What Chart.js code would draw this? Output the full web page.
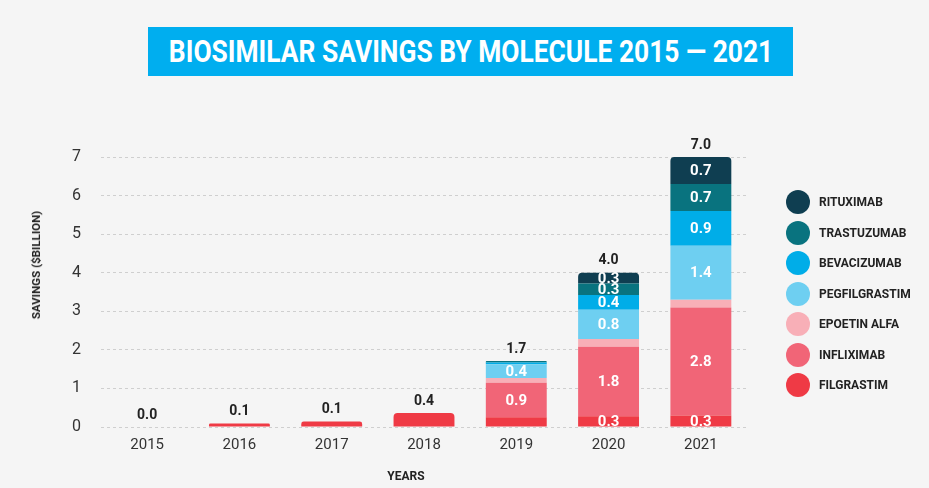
<!DOCTYPE html>
<html>
<head>
<meta charset="utf-8">
<script src="https://cdn.jsdelivr.net/npm/chart.js@4.4.1/dist/chart.umd.min.js"></script>
<style>
  html, body { margin: 0; padding: 0; background: #f5f5f5; }
  #wrap { position: relative; width: 929px; height: 488px; overflow: hidden; }
  #chart { position: absolute; left: 0; top: 0; }
  .title {
    position: absolute; left: 148px; top: 27px; width: 645px; height: 49px;
    background: #00aeef; overflow: hidden;
  }
  .title span {
    position: absolute; left: 50%; top: 0; white-space: nowrap; color: #fff;
    font: bold 31px Roboto, sans-serif; line-height: 49px; transform-origin: center center;
  }
  .ytitle {
    position: absolute; left: 36px; top: 265px; transform: translate(-50%, -50%) rotate(-90deg);
    font: bold 11.5px Roboto, sans-serif; color: #222; white-space: nowrap;
  }
  .xtitle {
    position: absolute; left: 406px; top: 476px; transform: translate(-50%, -50%);
    font: bold 12px Roboto, sans-serif; color: #222;
  }
  #legend { position: absolute; left: 786px; top: 187px; }
  .item { display: flex; align-items: center; height: 30.5px; }
  .dot { width: 24px; height: 24px; border-radius: 50%; margin-right: 9px; }
  .lbl { font: bold 12px Roboto, sans-serif; color: #222; }
</style>
</head>
<body>
<div id="wrap">
  <canvas id="chart" width="929" height="488"></canvas>
  <div class="title"><span id="titleText">BIOSIMILAR SAVINGS BY MOLECULE 2015 — 2021</span></div>
  <div class="ytitle">SAVINGS ($BILLION)</div>
  <div class="xtitle">YEARS</div>
  <div id="legend"></div>
</div>
<script>
const YEARS = ['2015', '2016', '2017', '2018', '2019', '2020', '2021'];

// bottom to top of each stack
const FILGRASTIM    = [0, 0.09, 0.14, 0.36, 0.25, 0.28, 0.3];
const INFLIXIMAB    = [0, 0, 0, 0, 0.9, 1.8, 2.8];
const EPOETIN_ALFA  = [0, 0, 0, 0, 0.12, 0.2, 0.2];
const PEGFILGRASTIM = [0, 0, 0, 0, 0.36, 0.76, 1.4];
const BEVACIZUMAB   = [0, 0, 0, 0, 0.04, 0.38, 0.9];
const TRASTUZUMAB   = [0, 0, 0, 0, 0.04, 0.3, 0.7];
const RITUXIMAB     = [0, 0, 0, 0, 0, 0.28, 0.7];

const Y_TICKS = [0, 1, 2, 3, 4, 5, 6, 7];

const SERIES = [
  { label: 'FILGRASTIM',    data: FILGRASTIM,    color: '#ef3a45' },
  { label: 'INFLIXIMAB',    data: INFLIXIMAB,    color: '#f16577' },
  { label: 'EPOETIN ALFA',  data: EPOETIN_ALFA,  color: '#f8afb7' },
  { label: 'PEGFILGRASTIM', data: PEGFILGRASTIM, color: '#6ecff1' },
  { label: 'BEVACIZUMAB',   data: BEVACIZUMAB,   color: '#00ade8' },
  { label: 'TRASTUZUMAB',   data: TRASTUZUMAB,   color: '#09737f' },
  { label: 'RITUXIMAB',     data: RITUXIMAB,     color: '#0f3e51' },
];

const TOTALS = YEARS.map((_, i) => SERIES.reduce((s, d) => s + d.data[i], 0));

// index of the top non-empty segment per year
function topSeries(i) {
  let top = -1;
  SERIES.forEach((s, k) => { if (s.data[i] > 0) top = k; });
  return top;
}

function segmentCount(i) {
  return SERIES.filter((s) => s.data[i] > 0).length;
}

// ================================================================
// title: squeeze to the banner's condensed width
// ================================================================
const titleText = document.getElementById('titleText');
titleText.style.transform = `translateX(-50%) scaleX(${604 / titleText.offsetWidth})`;

// ================================================================
// legend (top = last series)
// ================================================================
const legend = document.getElementById('legend');
SERIES.slice().reverse().forEach((s) => {
  const row = document.createElement('div');
  row.className = 'item';
  row.innerHTML = `<span class="dot" style="background:${s.color}"></span><span class="lbl">${s.label}</span>`;
  legend.appendChild(row);
});

// ================================================================
// labels plugin
// ================================================================
const labelsPlugin = {
  id: 'labels',
  afterDatasetsDraw(chart) {
    const ctx = chart.ctx;
    ctx.save();
    ctx.textAlign = 'center';
    ctx.font = 'bold 15px Roboto, sans-serif';
    ctx.fillStyle = '#ffffff';
    ctx.textBaseline = 'middle';
    chart.data.datasets.forEach((ds, k) => {
      const meta = chart.getDatasetMeta(k);
      meta.data.forEach((bar, i) => {
        const v = ds.data[i];
        if (v < 0.26 || segmentCount(i) < 2) return;
        const yc = (bar.y + bar.base) / 2;
        ctx.fillText(v.toFixed(1), bar.x, yc + 1);
      });
    });
    const yScale = chart.scales.y;
    const xScale = chart.scales.x;
    ctx.fillStyle = '#222';
    ctx.font = 'bold 14px Roboto, sans-serif';
    ctx.textBaseline = 'bottom';
    TOTALS.forEach((t, i) => {
      ctx.fillText(t.toFixed(1), xScale.getPixelForValue(i), yScale.getPixelForValue(t) - 5);
    });
    ctx.restore();
  },
};

new Chart(document.getElementById('chart'), {
  type: 'bar',
  data: {
    labels: YEARS,
    datasets: SERIES.map((s, k) => ({
      label: s.label,
      data: s.data,
      backgroundColor: s.color,
      stack: 'savings',
      categoryPercentage: 0.66,
      barPercentage: 1,
      borderSkipped: false,
      borderRadius: (c) => (topSeries(c.dataIndex) === k
        ? { topLeft: 4, topRight: 4, bottomLeft: 0, bottomRight: 0 } : 0),
    })),
  },
  options: {
    responsive: false,
    animation: false,
    layout: { padding: { left: 0, right: 182, top: 157, bottom: 0 } },
    plugins: { legend: { display: false }, tooltip: { enabled: false } },
    scales: {
      x: {
        stacked: true,
        grid: { display: false },
        border: { display: false },
        ticks: { color: '#333', font: { family: 'Roboto', size: 15 }, padding: 1 },
        afterFit: (s) => { s.height = 61; },
      },
      y: {
        stacked: true,
        min: 0,
        max: 7,
        afterBuildTicks: (s) => { s.ticks = Y_TICKS.map((v) => ({ value: v })); },
        grid: { color: '#cfcfcf', drawTicks: false, tickLength: 0 },
        border: { display: false, dash: [3, 3] },
        ticks: { color: '#333', font: { family: 'Roboto', size: 16 }, padding: 20 },
        afterFit: (s) => { s.width = 101; },
      },
    },
  },
  plugins: [labelsPlugin],
});
</script>
</body>
</html>
